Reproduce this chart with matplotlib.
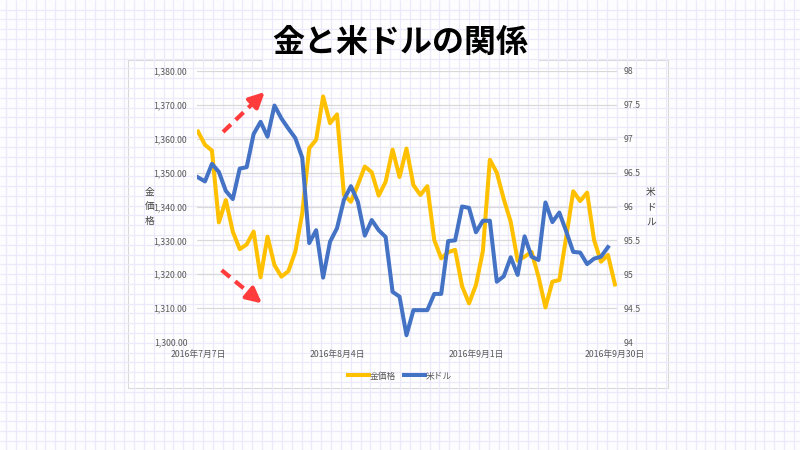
import matplotlib.pyplot as plt
import numpy as np
from matplotlib.patches import Rectangle, FancyBboxPatch
from matplotlib.lines import Line2D

plt.rcParams['font.family'] = ['Noto Sans CJK JP', 'DejaVu Sans']

# gold price (USD/oz), one value per trading day
gold = [1362.1, 1358.2, 1356.5, 1335.3, 1341.9, 1332.6, 1327.4, 1328.8, 1332.6, 1319.1,
        1331.1, 1322.7, 1319.3, 1320.9, 1326.7, 1338.0, 1357.2, 1359.7, 1372.5, 1364.6,
        1367.2, 1343.4, 1341.4, 1346.4, 1351.8, 1350.1, 1343.2, 1347.3, 1356.8, 1348.7,
        1357.1, 1346.3, 1343.4, 1346.0, 1330.1, 1324.7, 1326.5, 1327.2, 1316.5, 1311.4,
        1316.8, 1326.9, 1353.8, 1350.0, 1342.2, 1335.5, 1324.0, 1325.2, 1326.6, 1319.3,
        1310.2, 1317.8, 1318.3, 1331.1, 1344.5, 1341.6, 1344.1, 1330.1, 1323.7, 1325.7,
        1317.0]

# US dollar index
usd = [96.43, 96.37, 96.63, 96.51, 96.23, 96.11, 96.56, 96.58, 97.07, 97.25,
       97.03, 97.49, 97.30, 97.15, 97.01, 96.72, 95.46, 95.65, 94.95, 95.48,
       95.68, 96.10, 96.30, 96.07, 95.57, 95.80, 95.65, 95.55, 94.74, 94.67,
       94.10, 94.47, 94.47, 94.47, 94.71, 94.71, 95.49, 95.50, 96.00, 95.98,
       95.62, 95.79, 95.79, 94.89, 94.97, 95.25, 94.99, 95.56, 95.26, 95.21,
       96.06, 95.77, 95.91, 95.63, 95.33, 95.32, 95.15, 95.23, 95.26, 95.40]

date_ticks = [0, 20, 40, 60]
date_labels = ["2016年7月7日", "2016年8月4日", "2016年9月1日", "2016年9月30日"]

gold_ticks = np.arange(1300, 1381, 10)
usd_ticks = np.arange(94, 98.01, 0.5)

GOLD = '#FFC000'
BLUE = '#4472C4'
TXT = '#595959'

fig = plt.figure(figsize=(8, 4.5), dpi=100)

# graph-paper background, panel and title box
bg = fig.add_axes([0, 0, 1, 1])
bg.set_xlim(0, 800)
bg.set_ylim(450, 0)
bg.axis('off')
bg.add_patch(Rectangle((0, 0), 800, 450, facecolor='#FDFDFF', edgecolor='none'))
bg.vlines(np.arange(6, 800, 9.85), 0, 450, color='#ECE9FA', lw=0.9)
bg.hlines(np.arange(9.5, 450, 9.8), 0, 800, color='#ECE9FA', lw=0.9)
bg.add_patch(Rectangle((128, 60), 540, 328, facecolor='white', edgecolor='#D9D9D9', lw=0.8))
bg.add_patch(FancyBboxPatch((262, 16), 276, 52, boxstyle='round,pad=0,rounding_size=7',
                            facecolor='white', edgecolor='none'))
bg.text(400, 43, '金と米ドルの関係', ha='center', va='center', fontsize=23,
        fontweight='bold', color='black')

ax = fig.add_axes([197 / 800, 1 - 342 / 450, 420 / 800, 271 / 450])
ax.patch.set_alpha(0)
ax2 = ax.twinx()

x_gold = np.arange(len(gold))
x_usd = np.arange(len(usd))
ax.plot(x_gold, gold, color=GOLD, lw=2.9, solid_joinstyle='round', zorder=3)
ax2.plot(x_usd, usd, color=BLUE, lw=2.9, solid_joinstyle='round', zorder=3)

ax.set_xlim(-0.15, 60.3)
ax.set_ylim(1300, 1380)
ax2.set_ylim(94, 98)
ax.set_yticks(gold_ticks)
ax.set_yticklabels([f'{v:,.2f}' for v in gold_ticks])
ax2.set_yticks(usd_ticks)
ax2.set_yticklabels([f'{v:g}' for v in usd_ticks])
ax.set_xticks(date_ticks)
ax.set_xticklabels(date_labels)

ax.grid(axis='y', color='#D9D9D9', lw=0.9)
for a in (ax, ax2):
    for s in a.spines.values():
        s.set_visible(False)
ax.tick_params(axis='both', length=0, labelsize=6.3, labelcolor=TXT)
ax.tick_params(axis='y', pad=7)
ax.tick_params(axis='x', pad=6)
ax2.tick_params(axis='y', length=0, labelsize=6.3, labelcolor=TXT, pad=5)

ax.set_ylabel('金\n価\n格', rotation=0, fontsize=7, color='#404040', linespacing=1.6,
              va='center', ha='center')
ax.yaxis.set_label_coords(-0.112, 0.5)
ax2.set_ylabel('米\nド\nル', rotation=0, fontsize=7, color='#404040', linespacing=1.6,
               va='center', ha='center')
ax2.yaxis.set_label_coords(1.081, 0.5)

# red dashed arrows
RED = '#FF3B3B'
for (x0, y0), (x1, y1) in [((3.6, 1362.0), (9.6, 1373.8)), ((3.4, 1321.2), (9.2, 1311.4))]:
    xm = x0 + (x1 - x0) * 0.72
    ym = y0 + (y1 - y0) * 0.72
    ax.plot([x0, xm], [y0, ym], color=RED, lw=3, dashes=(2.6, 1.6), clip_on=False, zorder=4)
    ax.annotate('', xy=(x1, y1), xytext=(xm, ym), clip_on=False, zorder=4,
                arrowprops=dict(arrowstyle='-|>,head_length=0.9,head_width=0.45',
                                color=RED, lw=3, shrinkA=0, shrinkB=0))

handles = [Line2D([], [], color=GOLD, lw=2.9), Line2D([], [], color=BLUE, lw=2.9)]
fig.legend(handles, ['金価格', '米ドル'], loc='center', bbox_to_anchor=(0.5, 1 - 376 / 450),
           ncol=2, frameon=False, fontsize=6.3, handlelength=2.4, handletextpad=0.1,
           columnspacing=0.9, labelcolor=TXT)

fig.savefig('out.png', dpi=100)
